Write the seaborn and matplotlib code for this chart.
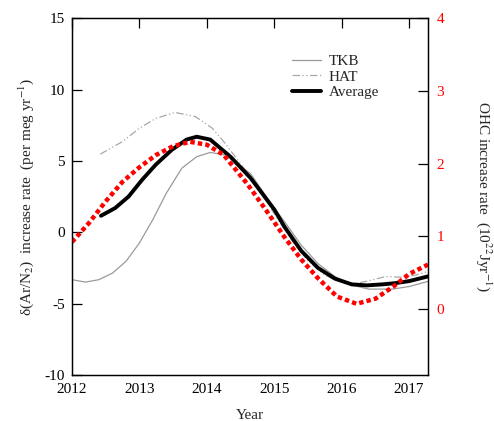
import numpy as np
import pandas as pd
import matplotlib
matplotlib.use("Agg")
import matplotlib.pyplot as plt
import seaborn as sns

sns.set_theme(style="white")
plt.rcParams['font.family'] = ['Liberation Serif', 'DejaVu Serif']
plt.rcParams['mathtext.fontset'] = 'stix'
plt.rcParams['axes.unicode_minus'] = False

# ---- data ----
tkb_year = [2012.0, 2012.2, 2012.4, 2012.6, 2012.8, 2013.0, 2013.2, 2013.4, 2013.63, 2013.85,
            2014.05, 2014.3, 2014.65, 2015.0, 2015.15, 2015.4, 2015.65, 2015.9, 2016.15,
            2016.4, 2016.75, 2017.0, 2017.28]
tkb_val = [-3.32, -3.49, -3.32, -2.86, -2.04, -0.75, 0.9, 2.75, 4.5, 5.3,
           5.6, 5.4, 4.1, 1.7, 0.76, -0.9, -2.2, -3.1, -3.7,
           -3.98, -3.98, -3.8, -3.44]

hat_year = [2012.42, 2012.75, 2013.0, 2013.25, 2013.53, 2013.83, 2014.08, 2014.27, 2014.5,
            2014.75, 2015.0, 2015.25, 2015.5, 2015.75, 2016.0, 2016.2, 2016.4, 2016.65,
            2016.9, 2017.1, 2017.28]
hat_val = [5.48, 6.36, 7.3, 8.0, 8.4, 8.11, 7.3, 6.25, 4.8,
           3.2, 1.3, -0.5, -2.0, -3.0, -3.5, -3.6, -3.4, -3.1,
           -3.15, -3.0, -2.74]

avg_year = [2012.43, 2012.64, 2012.84, 2013.04, 2013.24, 2013.48, 2013.7, 2013.85, 2014.05,
            2014.35, 2014.65, 2015.0, 2015.15, 2015.4, 2015.65, 2015.9, 2016.15, 2016.37,
            2016.6, 2016.8, 2017.0, 2017.28]
avg_val = [1.16, 1.7, 2.51, 3.68, 4.73, 5.78, 6.5, 6.7, 6.5,
           5.3, 3.8, 1.6, 0.4, -1.3, -2.5, -3.25, -3.65, -3.72,
           -3.65, -3.56, -3.42, -3.09]

ohc_year = [2012.0, 2012.25, 2012.5, 2012.75, 2013.0, 2013.25, 2013.5, 2013.75, 2014.0,
            2014.25, 2014.6, 2014.9, 2015.15, 2015.4, 2015.65, 2015.93, 2016.22, 2016.5,
            2016.77, 2017.0, 2017.28]
ohc_val = [0.92, 1.18, 1.48, 1.75, 1.95, 2.12, 2.24, 2.30, 2.26,
           2.12, 1.72, 1.33, 0.99, 0.68, 0.42, 0.17, 0.07, 0.14,
           0.31, 0.48, 0.61]

x_ticks = [2012, 2013, 2014, 2015, 2016, 2017]
left_ticks = [-10, -5, 0, 5, 10, 15]
right_ticks = [0, 1, 2, 3, 4]

fig = plt.figure(figsize=(4.94, 4.21), dpi=100)
ax = fig.add_axes([0.1457, 0.1093, 0.7207, 0.8472])
ax2 = ax.twinx()

sns.lineplot(x=tkb_year, y=tkb_val, ax=ax, color='#9a9a9a', lw=0.9, label='TKB', sort=False)
sns.lineplot(x=hat_year, y=hat_val, ax=ax, color='#a8a8a8', lw=0.9, label='HAT', sort=False)
ax.lines[-1].set_dashes([6, 2, 1, 2, 1, 2])
sns.lineplot(x=avg_year, y=avg_val, ax=ax, color='black', lw=2.8, label='Average', sort=False)
sns.lineplot(x=ohc_year, y=ohc_val, ax=ax2, color='#ff0000', lw=3.2, sort=False)
ax2.lines[-1].set_dashes([1.0, 0.7])
ax2.lines[-1].set_dash_capstyle('butt')

ax.set_xlim(2012, 2017.28)
ax.set_ylim(-10, 15)
ax2.set_ylim(-0.91, 4)

ax.set_xticks(x_ticks)
ax.set_yticks(left_ticks)
ax2.set_yticks(right_ticks)

ax.tick_params(axis='both', direction='in', length=7, width=0.9, labelsize=11,
               top=True, right=False, colors='black', pad=5)
ax.tick_params(axis='x', pad=6)
ax2.tick_params(axis='y', direction='in', length=7, width=0.9, labelsize=11,
                labelcolor='#ff0000', color='black', pad=6)
for a in (ax, ax2):
    for s in a.spines.values():
        s.set_color('black')
        s.set_linewidth(0.9)

ax.set_xlabel('Year', fontsize=11, labelpad=9)
ax.set_ylabel(r'δ(Ar/N$_2$)  increase rate  (per meg yr$^{-1}$)', fontsize=11, labelpad=6)
ax2.set_ylabel(r'OHC increase rate  (10$^{22}$Jyr$^{-1}$)', fontsize=11, rotation=270,
               labelpad=36)

leg = ax.legend(loc='upper left', bbox_to_anchor=(0.6, 0.915), frameon=False,
                fontsize=11, handlelength=1.9, handletextpad=0.5, labelspacing=0.1,
                borderaxespad=0)
if ax2.get_legend():
    ax2.get_legend().remove()

fig.savefig('out.png', dpi=100)
